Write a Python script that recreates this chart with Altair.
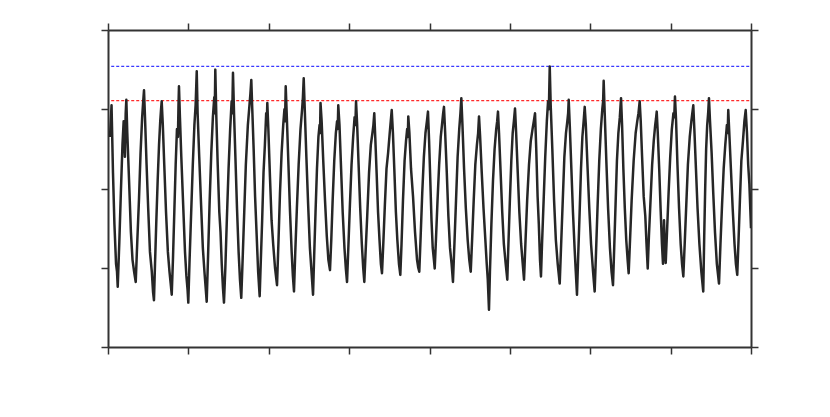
import altair as alt
import pandas as pd

# Signal samples (x in axis units 0..8, y in axis units 0..4)
xs = [
    0.025, 0.044, 0.062, 0.080, 0.100, 0.112, 0.121,
    0.140, 0.160, 0.180, 0.195, 0.210, 0.220, 0.228,
    0.240, 0.262, 0.285, 0.305, 0.325, 0.345,
    0.365, 0.385, 0.405, 0.425, 0.438, 0.448,
    0.462, 0.480, 0.500, 0.522, 0.545, 0.560, 0.572,
    0.585, 0.600, 0.618, 0.635, 0.650, 0.660, 0.668,
    0.682, 0.700, 0.722, 0.745, 0.765, 0.780, 0.793,
    0.808, 0.825, 0.842, 0.858, 0.870, 0.877, 0.883,
    0.895, 0.912, 0.935, 0.958, 0.975, 0.990, 0.999,
    1.015, 1.035, 1.055, 1.075, 1.090, 1.104,
    1.115, 1.135, 1.158, 1.180, 1.200, 1.215, 1.228,
    1.245, 1.265, 1.285, 1.305, 1.322, 1.328, 1.335,
    1.348, 1.365, 1.385, 1.400, 1.415, 1.430, 1.443,
    1.460, 1.480, 1.500, 1.520, 1.538, 1.546, 1.555,
    1.568, 1.585, 1.605, 1.625, 1.642, 1.658,
    1.675, 1.695, 1.715, 1.740, 1.760, 1.772, 1.783,
    1.795, 1.812, 1.830, 1.850, 1.868, 1.887,
    1.900, 1.918, 1.935, 1.952, 1.968, 1.975, 1.982,
    1.995, 2.015, 2.035, 2.055, 2.078, 2.103,
    2.120, 2.140, 2.160, 2.180, 2.195, 2.203, 2.211,
    2.225, 2.245, 2.265, 2.285, 2.300, 2.314,
    2.330, 2.350, 2.372, 2.395, 2.415, 2.425, 2.435,
    2.448, 2.468, 2.490, 2.512, 2.532, 2.551,
    2.565, 2.582, 2.600, 2.618, 2.632, 2.638, 2.644,
    2.658, 2.678, 2.700, 2.722, 2.742, 2.762,
    2.778, 2.795, 2.815, 2.835, 2.850, 2.858, 2.865,
    2.880, 2.900, 2.920, 2.942, 2.960, 2.974,
    2.990, 3.010, 3.030, 3.050, 3.068, 3.078, 3.086,
    3.100, 3.118, 3.138, 3.158, 3.175, 3.189,
    3.205, 3.225, 3.248, 3.270, 3.290, 3.302, 3.313,
    3.325, 3.342, 3.360, 3.378, 3.395, 3.409,
    3.425, 3.445, 3.465, 3.485, 3.505, 3.518, 3.530,
    3.545, 3.562, 3.582, 3.600, 3.620, 3.637,
    3.652, 3.670, 3.690, 3.708, 3.722, 3.730, 3.736,
    3.750, 3.770, 3.795, 3.820, 3.845, 3.860, 3.873,
    3.890, 3.910, 3.930, 3.950, 3.968, 3.981,
    3.995, 4.010, 4.025, 4.040, 4.055, 4.065,
    4.080, 4.100, 4.120, 4.140, 4.160, 4.170, 4.180,
    4.195, 4.215, 4.235, 4.255, 4.275, 4.292,
    4.310, 4.330, 4.350, 4.370, 4.385, 4.396,
    4.410, 4.430, 4.452, 4.475, 4.495, 4.513,
    4.530, 4.550, 4.570, 4.590, 4.605, 4.616,
    4.630, 4.650, 4.672, 4.695, 4.712, 4.725, 4.740,
    4.752, 4.770, 4.790, 4.810, 4.830, 4.842, 4.852,
    4.865, 4.885, 4.905, 4.925, 4.948, 4.968,
    4.982, 5.000, 5.018, 5.035, 5.050, 5.064,
    5.078, 5.098, 5.118, 5.140, 5.160, 5.176,
    5.195, 5.215, 5.238, 5.260, 5.282, 5.298, 5.313,
    5.328, 5.345, 5.360, 5.375, 5.387,
    5.400, 5.420, 5.440, 5.460, 5.475, 5.485, 5.496,
    5.508, 5.528, 5.550, 5.572, 5.595, 5.620,
    5.638, 5.658, 5.678, 5.698, 5.715, 5.725, 5.732,
    5.745, 5.765, 5.785, 5.805, 5.820, 5.835,
    5.850, 5.868, 5.885, 5.902, 5.918, 5.931,
    5.945, 5.965, 5.988, 6.010, 6.035, 6.055,
    6.072, 6.092, 6.112, 6.132, 6.150, 6.160, 6.167,
    6.180, 6.200, 6.222, 6.245, 6.265, 6.283,
    6.298, 6.315, 6.332, 6.350, 6.368, 6.383,
    6.396, 6.412, 6.430, 6.448, 6.465, 6.478,
    6.495, 6.515, 6.540, 6.565, 6.585, 6.600, 6.615,
    6.628, 6.645, 6.665, 6.685, 6.700, 6.715,
    6.730, 6.750, 6.770, 6.790, 6.808, 6.818, 6.827,
    6.840, 6.858, 6.875, 6.892, 6.905, 6.918, 6.928, 6.939,
    6.955, 6.975, 6.995, 7.015, 7.035, 7.045, 7.054,
    7.068, 7.085, 7.105, 7.125, 7.142, 7.158,
    7.175, 7.195, 7.215, 7.238, 7.258, 7.270, 7.282,
    7.295, 7.315, 7.335, 7.358, 7.382, 7.406,
    7.418, 7.430, 7.442, 7.455, 7.467, 7.477,
    7.490, 7.510, 7.530, 7.552, 7.575, 7.602,
    7.620, 7.640, 7.660, 7.680, 7.700, 7.710, 7.717,
    7.730, 7.750, 7.772, 7.795, 7.812, 7.829,
    7.845, 7.862, 7.880, 7.900, 7.918, 7.934,
    7.950, 7.965, 7.980, 8.000,
]
ys = [
    2.65, 3.05, 2.20, 1.55, 1.05, 0.95, 0.76,
    1.30, 1.95, 2.55, 2.85, 2.40, 2.95, 3.12,
    2.70, 2.10, 1.45, 1.10, 0.95, 0.82,
    1.35, 1.85, 2.45, 2.90, 3.10, 3.24,
    2.85, 2.30, 1.75, 1.20, 0.95, 0.70, 0.59,
    1.05, 1.55, 2.10, 2.55, 2.85, 3.00, 3.10,
    2.80, 2.30, 1.70, 1.20, 0.95, 0.80, 0.66,
    1.10, 1.70, 2.30, 2.75, 2.65, 3.05, 3.29,
    2.90, 2.40, 1.80, 1.20, 0.90, 0.72, 0.56,
    1.10, 1.70, 2.30, 2.80, 3.05, 3.48,
    2.95, 2.40, 1.80, 1.25, 0.95, 0.75, 0.57,
    1.15, 1.85, 2.45, 2.90, 3.15, 2.95, 3.50,
    2.90, 2.30, 1.70, 1.45, 1.05, 0.75, 0.56,
    1.00, 1.65, 2.25, 2.75, 3.10, 2.95, 3.46,
    2.95, 2.40, 1.75, 1.20, 0.85, 0.62,
    1.10, 1.70, 2.30, 2.80, 3.05, 3.20, 3.37,
    3.00, 2.50, 1.90, 1.40, 0.95, 0.64,
    1.05, 1.60, 2.20, 2.55, 2.95, 2.80, 3.08,
    2.75, 2.15, 1.60, 1.30, 1.00, 0.78,
    1.30, 1.95, 2.45, 2.80, 3.00, 2.85, 3.29,
    2.90, 2.30, 1.70, 1.20, 0.90, 0.70,
    1.20, 1.75, 2.30, 2.75, 3.00, 3.15, 3.39,
    3.00, 2.40, 1.80, 1.25, 0.95, 0.66,
    1.15, 1.70, 2.25, 2.65, 2.80, 2.70, 3.08,
    2.85, 2.35, 1.85, 1.40, 1.10, 0.97,
    1.35, 1.85, 2.35, 2.70, 2.85, 2.75, 3.05,
    2.80, 2.25, 1.70, 1.25, 0.98, 0.82,
    1.25, 1.80, 2.30, 2.65, 2.90, 2.80, 3.10,
    2.80, 2.30, 1.75, 1.30, 1.00, 0.82,
    1.20, 1.65, 2.20, 2.55, 2.70, 2.80, 2.95,
    2.65, 2.20, 1.70, 1.35, 1.05, 0.93,
    1.30, 1.80, 2.25, 2.45, 2.70, 2.85, 2.99,
    2.70, 2.25, 1.70, 1.35, 1.05, 0.91,
    1.30, 1.85, 2.35, 2.60, 2.75, 2.65, 2.91,
    2.70, 2.25, 1.90, 1.45, 1.10, 1.00, 0.95,
    1.40, 1.95, 2.40, 2.70, 2.85, 2.97,
    2.60, 2.10, 1.60, 1.25, 1.10, 0.99,
    1.35, 1.85, 2.30, 2.65, 2.85, 2.95, 3.03,
    2.70, 2.20, 1.65, 1.25, 1.05, 0.82,
    1.30, 1.85, 2.40, 2.75, 2.95, 3.14,
    2.80, 2.25, 1.75, 1.35, 1.10, 0.95,
    1.35, 1.85, 2.30, 2.55, 2.70, 2.91,
    2.65, 2.20, 1.75, 1.35, 1.05, 0.85, 0.47,
    0.95, 1.55, 2.10, 2.50, 2.75, 2.85, 2.97,
    2.70, 2.20, 1.70, 1.30, 1.05, 0.85,
    1.30, 1.85, 2.35, 2.70, 2.85, 3.01,
    2.70, 2.20, 1.70, 1.30, 1.05, 0.85,
    1.35, 1.85, 2.30, 2.60, 2.75, 2.85, 2.95,
    2.50, 1.90, 1.55, 1.10, 0.89,
    1.30, 1.85, 2.40, 2.85, 3.10, 3.00, 3.54,
    3.05, 2.50, 1.85, 1.35, 1.05, 0.80,
    1.30, 1.85, 2.40, 2.70, 2.85, 2.95, 3.12,
    2.80, 2.25, 1.70, 1.25, 0.95, 0.66,
    1.15, 1.70, 2.25, 2.65, 2.85, 3.03,
    2.80, 2.30, 1.75, 1.30, 0.95, 0.70,
    1.20, 1.80, 2.35, 2.75, 3.00, 3.10, 3.36,
    2.95, 2.35, 1.75, 1.25, 0.95, 0.78,
    1.25, 1.80, 2.35, 2.70, 2.90, 3.14,
    2.80, 2.25, 1.75, 1.35, 1.10, 0.93,
    1.35, 1.85, 2.35, 2.70, 2.85, 2.95, 3.10,
    2.85, 2.40, 1.90, 1.65, 1.30, 0.99,
    1.40, 1.85, 2.30, 2.60, 2.80, 2.88, 2.97,
    2.70, 2.25, 1.75, 1.30, 1.05, 1.60, 1.25, 1.06,
    1.45, 1.95, 2.40, 2.75, 2.95, 2.90, 3.16,
    2.85, 2.30, 1.75, 1.30, 1.05, 0.89,
    1.30, 1.80, 2.30, 2.65, 2.85, 2.95, 3.05,
    2.75, 2.25, 1.75, 1.30, 0.95, 0.70,
    1.40, 2.00, 2.50, 2.80, 2.95, 3.14,
    2.85, 2.45, 1.95, 1.45, 1.05, 0.80,
    1.30, 1.80, 2.25, 2.55, 2.80, 2.70, 2.99,
    2.70, 2.25, 1.75, 1.30, 1.05, 0.91,
    1.35, 1.85, 2.35, 2.60, 2.85, 2.99,
    2.70, 2.30, 2.05, 1.50,
]

# Threshold lines
thr_names = ["upper", "lower"]
thr_values = [3.54, 3.11]
thr_start = [0.04, 0.04]
thr_end = [8.0, 8.0]
thr_colors = ["#3a3aff", "#ff2a2a"]

x_ticks = [0, 1, 2, 3, 4, 5, 6, 7, 8]
y_ticks = [0, 1, 2, 3, 4]

df = pd.DataFrame({"x": xs, "y": ys})
thr = pd.DataFrame({"name": thr_names, "v": thr_values, "x0": thr_start, "x1": thr_end})

axis_style = dict(labels=False, title=None, grid=False, domainColor="#333333",
                  domainWidth=2, tickColor="#333333", tickWidth=1.5, tickSize=7,
                  ticks=True)

xs_scale = alt.Scale(domain=[0, 8], nice=False, zero=False)
ys_scale = alt.Scale(domain=[0, 4], nice=False, zero=False)

line = alt.Chart(df).mark_line(color="#262626", strokeWidth=2.5, clip=True,
                               strokeJoin="round").encode(
    x=alt.X("x:Q", scale=xs_scale, axis=alt.Axis(orient="bottom", values=x_ticks, **axis_style)),
    y=alt.Y("y:Q", scale=ys_scale, axis=alt.Axis(orient="left", values=y_ticks, **axis_style)),
)

rules = alt.Chart(thr).mark_rule(strokeWidth=1.3, strokeDash=[3, 2]).encode(
    x=alt.X("x0:Q", scale=xs_scale, axis=alt.Axis(orient="top", values=x_ticks, **axis_style)),
    x2="x1:Q",
    y=alt.Y("v:Q", scale=ys_scale, axis=alt.Axis(orient="right", values=y_ticks, **axis_style)),
    color=alt.Color("name:N", scale=alt.Scale(domain=thr_names, range=thr_colors), legend=None),
)

chart = alt.layer(rules, line).resolve_axis(x="independent", y="independent").properties(
    width=643, height=317,
    autosize=alt.AutoSizeParams(type="none"),
    padding={"left": 100, "top": 22, "right": 70, "bottom": 55},
).configure_view(stroke=None).configure(background="white")

chart.save("out.html", embed_options={"renderer": "svg", "actions": False})
